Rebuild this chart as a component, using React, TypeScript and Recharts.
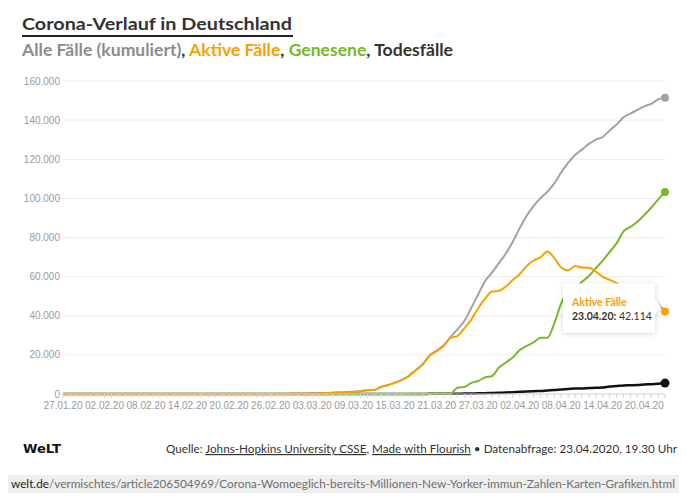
import React from 'react';
import { LineChart, Line, XAxis, YAxis, CartesianGrid } from 'recharts';

const dates = [
  '27.01.20','28.01.20','29.01.20','30.01.20','31.01.20',
  '01.02.20','02.02.20','03.02.20','04.02.20','05.02.20','06.02.20','07.02.20','08.02.20','09.02.20','10.02.20',
  '11.02.20','12.02.20','13.02.20','14.02.20','15.02.20','16.02.20','17.02.20','18.02.20','19.02.20','20.02.20',
  '21.02.20','22.02.20','23.02.20','24.02.20','25.02.20','26.02.20','27.02.20','28.02.20','29.02.20',
  '01.03.20','02.03.20','03.03.20','04.03.20','05.03.20','06.03.20','07.03.20','08.03.20','09.03.20','10.03.20',
  '11.03.20','12.03.20','13.03.20','14.03.20','15.03.20','16.03.20','17.03.20','18.03.20','19.03.20','20.03.20',
  '21.03.20','22.03.20','23.03.20','24.03.20','25.03.20','26.03.20','27.03.20','28.03.20','29.03.20','30.03.20','31.03.20',
  '01.04.20','02.04.20','03.04.20','04.04.20','05.04.20','06.04.20','07.04.20','08.04.20','09.04.20','10.04.20',
  '11.04.20','12.04.20','13.04.20','14.04.20','15.04.20','16.04.20','17.04.20','18.04.20','19.04.20','20.04.20',
  '21.04.20','22.04.20','23.04.20',
];

const totalCases = [
  1, 4, 4, 4, 5,
  8, 10, 12, 12, 12, 12, 13, 13, 14, 14, 16, 16, 16, 16, 16, 16, 16, 16, 16, 16, 16, 16, 16, 16, 17, 27, 46, 48, 79,
  130, 159, 196, 262, 482, 670, 799, 1040, 1176, 1457, 1908, 2078, 3675, 4585, 5795, 7272, 9257, 12327, 15320, 19848,
  22213, 24873, 29056, 32986, 37323, 43938, 50871, 57695, 62095, 66885, 71808,
  77872, 84794, 91159, 96092, 100123, 103374, 107663, 113296, 118181, 122171, 124908, 127854, 130072, 131359,
  134753, 137698, 141397, 143342, 145184, 147065, 148291, 150648, 151500,
];

const activeCases = [
  1, 4, 4, 4, 5,
  8, 10, 12, 12, 12, 12, 13, 13, 14, 14, 16, 15, 15, 15, 15, 15, 15, 15, 15, 15, 2, 2, 2, 2, 3, 13, 31, 32, 63,
  114, 143, 180, 246, 466, 653, 781, 1022, 1156, 1437, 1880, 2050, 3622, 4530, 5738, 7209, 9166, 12194, 15163, 19601,
  21896, 24513, 28667, 29586, 33570, 37998, 43871, 48781, 52351, 52740, 54933,
  58252, 61247, 65309, 68248, 69839, 72864, 69566, 64647, 63167, 65491, 64637, 64532, 62578, 59865,
  58349, 56646, 53931, 53483, 52598, 50703, 48058, 45969, 42114,
];

const recoveredCases = [
  0, 0, 0, 0, 0,
  0, 0, 0, 0, 0, 0, 0, 0, 0, 0, 0, 1, 1, 1, 1, 1, 1, 1, 1, 1, 14, 14, 14, 14, 14, 14, 15, 16, 16,
  16, 16, 16, 16, 16, 17, 18, 18, 18, 18, 25, 25, 46, 46, 46, 46, 67, 105, 113, 180,
  233, 266, 266, 3243, 3547, 5673, 6658, 8481, 9211, 13500, 16100,
  18700, 22440, 24575, 26400, 28700, 28700, 36081, 46300, 52407, 53913, 57400, 60300, 64300, 68200,
  72600, 77000, 83114, 85400, 88000, 91500, 95200, 99400, 103300,
];

const deathCases = [
  0, 0, 0, 0, 0,
  0, 0, 0, 0, 0, 0, 0, 0, 0, 0, 0, 0, 0, 0, 0, 0, 0, 0, 0, 0, 0, 0, 0, 0, 0, 0, 0, 0, 0,
  0, 0, 0, 0, 0, 0, 0, 0, 2, 2, 3, 3, 7, 9, 11, 17, 24, 28, 44, 67,
  84, 94, 123, 157, 206, 267, 342, 433, 533, 645, 775,
  920, 1107, 1275, 1444, 1584, 1810, 2016, 2349, 2607, 2767, 2871, 3022, 3194, 3294,
  3804, 4052, 4352, 4459, 4586, 4862, 5033, 5279, 5575,
];

const yTicks = [0, 20000, 40000, 60000, 80000, 100000, 120000, 140000, 160000];
const labelStep = 6;

const C_GRAY = '#a2a2a2';
const C_ORANGE = '#f6a200';
const C_GREEN = '#78b82a';
const C_BLACK = '#111111';

const data = dates.map((d, i) => ({
  i,
  date: d,
  total: totalCases[i],
  active: activeCases[i],
  recovered: recoveredCases[i],
  deaths: deathCases[i],
}));

const xTicks = dates.map((_, i) => i);
const lastIndex = dates.length - 1;

const fmt = (v: number) => String(v).replace(/\B(?=(\d{3})+(?!\d))/g, '.');

const AXIS_FONT = '"Liberation Sans", Arial, sans-serif';
const TEXT_FONT = 'Lato, "Noto Sans", sans-serif';

const XTick = (props: any) => {
  const { x, y, payload } = props;
  const v = payload.value as number;
  if (v % labelStep !== 0) return <g />;
  return (
    <text x={x} y={y} dy="0.71em" textAnchor="middle" fontSize={10} fill="#9a9a9a" fontFamily={AXIS_FONT}>
      {dates[v]}
    </text>
  );
};

const makeEndDot = (color: string, r: number) => (props: any) => {
  const { cx, cy, index } = props;
  if (index !== lastIndex || cx == null || cy == null) return <g key={`d${index}`} />;
  return <circle key={`d${index}`} cx={cx} cy={cy} r={r} fill={color} />;
};

const activeDot = (props: any) => {
  const { cx, cy, index } = props;
  if (index !== lastIndex || cx == null || cy == null) return <g key={`a${index}`} />;
  const bx = cx - 102;
  const by = cy - 28;
  const bw = 92;
  const bh = 49;
  const ay = cy - 5;
  const path = `M${bx},${by} H${bx + bw} V${ay - 7} L${bx + bw + 6},${ay} L${bx + bw},${ay + 7} V${by + bh} H${bx} Z`;
  return (
    <g key={`a${index}`}>
      <defs>
        <filter id="ttShadow" x="-30%" y="-30%" width="160%" height="170%">
          <feDropShadow dx="0" dy="1" stdDeviation="2.5" floodColor="#000" floodOpacity="0.18" />
        </filter>
      </defs>
      <path d={path} fill="#fff" filter="url(#ttShadow)" />
      <text x={bx + 9} y={cy - 6} fontSize={10.5} fontWeight={700} fill={C_ORANGE} fontFamily={TEXT_FONT}>
        Aktive Fälle
      </text>
      <text x={bx + 9} y={cy + 8} fontSize={10.5} fill="#333" fontFamily={TEXT_FONT}>
        <tspan fontWeight={700}>{dates[index]}:</tspan> {fmt(activeCases[index])}
      </text>
      <circle cx={cx} cy={cy} r={4} fill={C_ORANGE} />
    </g>
  );
};

export default function App() {
  return (
    <div style={{ position: 'absolute', left: 0, top: 0, width: 687, height: 497, background: '#fff', overflow: 'hidden' }}>
      <svg width={687} height={497} style={{ position: 'absolute', left: 0, top: 0 }}>
        <text x={22} y={30} fontSize={17} fontWeight={700} fill="#333" fontFamily={TEXT_FONT} textLength={270} lengthAdjust="spacingAndGlyphs">
          Corona-Verlauf in Deutschland
        </text>
        <rect x={22} y={35} width={271} height={2} fill="#222" />
        <text x={22} y={56} fontSize={17} fontWeight={700} fontFamily={TEXT_FONT} textLength={431} lengthAdjust="spacingAndGlyphs">
          <tspan fill="#8c8c8c">Alle Fälle (kumuliert)</tspan>
          <tspan fill="#333">, </tspan>
          <tspan fill={C_ORANGE}>Aktive Fälle</tspan>
          <tspan fill="#333">, </tspan>
          <tspan fill={C_GREEN}>Genesene</tspan>
          <tspan fill="#333">, Todesfälle</tspan>
        </text>

        <text x={23} y={453} fontSize={13} fontWeight={900} fill="#111" fontFamily='"DejaVu Sans", sans-serif' textLength={38} lengthAdjust="spacingAndGlyphs">
          WeLT
        </text>
        <text x={166} y={453} fontSize={12} fill="#333" fontFamily={TEXT_FONT} textLength={511} lengthAdjust="spacingAndGlyphs">
          Quelle: <tspan style={{ textDecoration: 'underline' }}>Johns-Hopkins University CSSE,</tspan> <tspan style={{ textDecoration: 'underline' }}>Made with Flourish</tspan> • Datenabfrage: 23.04.2020, 19.30 Uhr
        </text>
        <rect x={8} y={475} width={671} height={18} fill="#efefef" />
        <text x={11} y={488} fontSize={12} fontFamily={TEXT_FONT} textLength={664} lengthAdjust="spacingAndGlyphs">
          <tspan fill="#222">welt.de</tspan>
          <tspan fill="#6e6e6e">/vermischtes/article206504969/Corona-Womoeglich-bereits-Millionen-New-Yorker-immun-Zahlen-Karten-Grafiken.html</tspan>
        </text>
      </svg>

      <div style={{ position: 'absolute', left: 0, top: 0 }}>
        <LineChart width={687} height={497} data={data} margin={{ top: 81, right: 22, bottom: 73, left: 0 }}>
          <CartesianGrid vertical={false} stroke="#ececec" />
          <XAxis
            dataKey="i"
            type="number"
            domain={[0, lastIndex]}
            ticks={xTicks}
            interval={0}
            height={30}
            tick={<XTick />}
            tickSize={4}
            tickMargin={4}
            tickLine={{ stroke: '#d6d6d6' }}
            axisLine={{ stroke: '#d6d6d6' }}
          />
          <YAxis
            domain={[0, 160000]}
            ticks={yTicks}
            width={63}
            tickSize={0}
            tickMargin={3}
            axisLine={false}
            tickLine={false}
            tickFormatter={fmt}
            tick={{ fontSize: 10, fill: '#9a9a9a', fontFamily: AXIS_FONT }}
          />
          <Line dataKey="total" type="monotone" stroke={C_GRAY} strokeWidth={2} dot={makeEndDot(C_GRAY, 4)} activeDot={false} isAnimationActive={false} />
          <Line dataKey="deaths" type="monotone" stroke={C_BLACK} strokeWidth={2.5} dot={makeEndDot(C_BLACK, 4.5)} activeDot={false} isAnimationActive={false} />
          <Line dataKey="recovered" type="monotone" stroke={C_GREEN} strokeWidth={2} dot={makeEndDot(C_GREEN, 4)} activeDot={false} isAnimationActive={false} />
          <Line dataKey="active" type="monotone" stroke={C_ORANGE} strokeWidth={2} dot={activeDot} activeDot={false} isAnimationActive={false} />
        </LineChart>
      </div>
    </div>
  );
}
